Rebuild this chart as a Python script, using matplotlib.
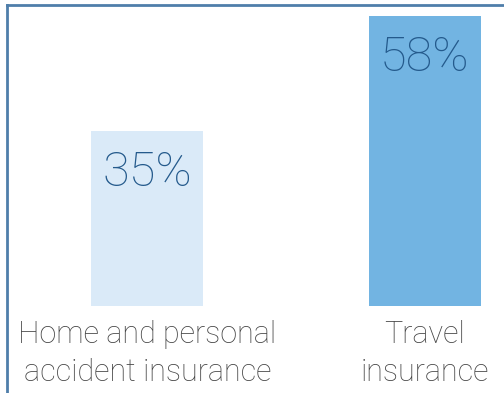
import matplotlib
matplotlib.use("Agg")
import matplotlib.pyplot as plt
from matplotlib.lines import Line2D

categories = ["Home and personal\naccident insurance", "Travel\ninsurance"]
values = [35, 58]
bar_colors = ["#daeaf8", "#72b4e2"]

W, H, DPI = 504, 393, 100
fig = plt.figure(figsize=(W / DPI, H / DPI), dpi=DPI)
fig.patch.set_facecolor("white")

# axes spans full width; bars baseline at 306 px from top, 5 px per percent
bottom_px = 306
px_per_unit = 5.0
ymax = 60
ax_h = ymax * px_per_unit
ax = fig.add_axes([0, (H - bottom_px) / H, 1, ax_h / H])

cx0, cx1 = 147.5, 425.0
unit = cx1 - cx0
ax.set_xlim(-cx0 / unit, (W - cx0) / unit)
ax.set_ylim(0, ymax)

x = list(range(len(values)))
ax.bar(x, values, width=112 / unit, color=bar_colors, zorder=2)

for xi, v in zip(x, values):
    ax.annotate(f"{v}%", (xi, v), xytext=(0, -13), textcoords="offset points",
                ha="center", va="top", fontsize=35, color="#245a8c",
                family="Roboto", fontweight="light")

ax.set_xticks(x)
ax.set_xticklabels(categories, fontsize=22, color="#454545", family="Roboto",
                   fontweight="light", linespacing=1.4)
ax.tick_params(axis="x", length=0, pad=10)
ax.set_yticks([])
for s in ax.spines.values():
    s.set_visible(False)
ax.patch.set_alpha(0)

# frame lines along the left and top edges
fig.add_artist(Line2D([7 / W, 7 / W], [0, 1 - 5 / H], color="#4f7eaa", lw=2,
                      transform=fig.transFigure))
fig.add_artist(Line2D([7 / W, 1], [1 - 5 / H, 1 - 5 / H], color="#4f7eaa", lw=2,
                      transform=fig.transFigure))

fig.savefig("out.png", dpi=DPI)
